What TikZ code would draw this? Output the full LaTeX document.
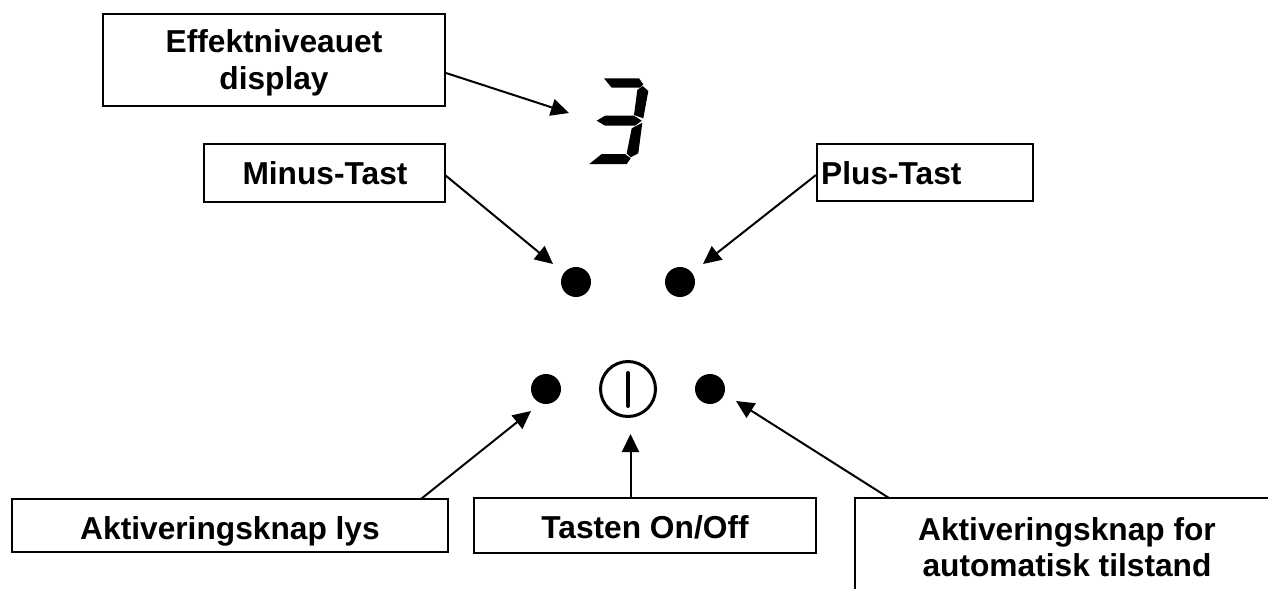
\documentclass[tikz,border=0pt]{standalone}
\usepackage{fontspec}
\setmainfont{Liberation Sans}
\usetikzlibrary{arrows.meta}
\tikzset{
  x=1pt,y=-1pt,
  lblfont/.style={font=\fontsize{31.7}{36.5}\selectfont\bfseries},
  lbl/.style={draw=black,line width=2pt,inner sep=0pt},
  txt/.style={lblfont,inner sep=0pt,align=center},
  dot/.style={circle,fill=black,draw=none,minimum size=30pt,inner sep=0pt},
  conn/.style={draw=black,line width=2pt,-{Triangle[length=18pt,width=17pt]}},
  seg/.style={fill=black,draw=none}
}
\begin{document}
\begin{tikzpicture}
\useasboundingbox (0,0) rectangle (1268,589);
% boxes
\node[lbl,minimum width=342pt,minimum height=92pt] (eff) at (274,60) {};
\node[txt] (efftxt) at (274,63) {Effektniveauet\\display};
\node[lbl,minimum width=241pt,minimum height=58pt] (minus) at (324.5,173) {};
\node[txt,anchor=base] (minustxt) at (325,184) {Minus-Tast};
\node[lbl,minimum width=216pt,minimum height=57pt] (plus) at (925,172.5) {};
\node[txt,anchor=base west] (plustxt) at (821,184) {Plus-Tast};
\node[lbl,minimum width=436pt,minimum height=53pt] (lys) at (230,525.5) {};
\node[txt,anchor=base] (lystxt) at (230,539) {Aktiveringsknap lys};
\node[lbl,minimum width=342pt,minimum height=55pt] (onoff) at (645,525.5) {};
\node[txt,anchor=base] (onofftxt) at (645,538) {Tasten On/Off};
\coordinate (autoTL) at (855,498);
\coordinate (autoTR) at (1268,498);
\coordinate (autoBL) at (855,589);
\draw[line width=2pt] (autoBL) -- (autoTL) -- (autoTR);
\node[txt] (autotxt) at (1067,547) {Aktiveringsknap for\\automatisk tilstand};
% dots
\node[dot] (d1) at (576,282) {};
\node[dot] (d2) at (680,282) {};
\node[dot] (d3) at (546,389) {};
\node[dot] (d4) at (710,389) {};
\node[circle,draw=black,line width=3pt,minimum size=55pt,inner sep=0pt] (power) at (628,389) {};
\draw[line width=4pt,line cap=round] (628,373) -- (628,406);
% digit
\fill[seg] (604,78.3) -- (639,78.3) -- (643.3,84.3) -- (640,87.7) -- (611.7,87.7) -- cycle;
\fill[seg] (642.7,86) -- (648.3,91) -- (643.3,118.3) -- (634,115) -- (637.3,90) -- cycle;
\fill[seg] (596.7,120.7) -- (605,115.7) -- (634,115.7) -- (641.7,120.7) -- (635,125.7) -- (605,125.7) -- cycle;
\fill[seg] (642.3,122.7) -- (638.3,153.3) -- (630.7,157.3) -- (626.7,153.3) -- (631.7,128.3) -- cycle;
\fill[seg] (589.3,164) -- (601.7,154) -- (625,154) -- (630.7,158.3) -- (626.7,164) -- cycle;
% connectors
\coordinate (c1) at (446,73);
\coordinate (c1e) at (569,113);
\draw[conn] (c1) -- (c1e);
\coordinate (c2) at (445,175);
\coordinate (c2e) at (553,264);
\draw[conn] (c2) -- (c2e);
\coordinate (c3) at (816,175);
\coordinate (c3e) at (703,264);
\draw[conn] (c3) -- (c3e);
\coordinate (c4) at (421,499);
\coordinate (c4e) at (531,411);
\draw[conn] (c4) -- (c4e);
\coordinate (c5) at (630.5,498);
\coordinate (c5e) at (630.5,434);
\draw[conn] (c5) -- (c5e);
\coordinate (c6) at (889,498);
\coordinate (c6e) at (736,401);
\draw[conn] (c6) -- (c6e);
\end{tikzpicture}
\end{document}
